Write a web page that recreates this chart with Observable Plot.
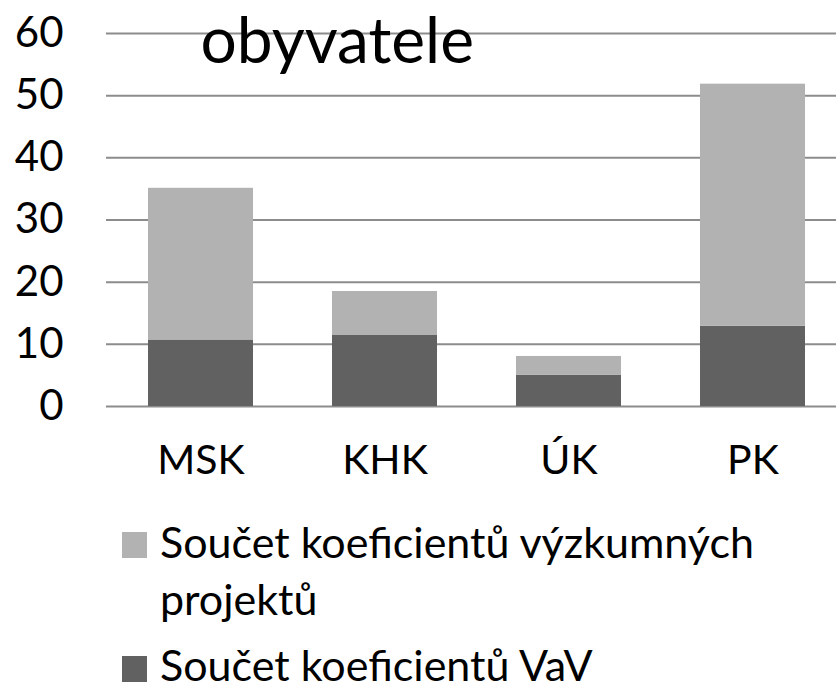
<!DOCTYPE html>
<html>
<head>
<meta charset="utf-8">
<script src="https://cdn.jsdelivr.net/npm/d3@7"></script>
<script src="https://cdn.jsdelivr.net/npm/@observablehq/plot@0.6"></script>
<style>
  html, body { margin: 0; padding: 0; background: #fff; overflow: hidden; }
  body { position: relative; width: 836px; height: 687px; font-family: Lato, "Open Sans", sans-serif; color: #000; }
  #chart { position: absolute; left: 0; top: 0; }
  .sw { position: absolute; width: 25px; height: 26px; }
  .lt { position: absolute; left: 160px; font-size: 43px; white-space: nowrap; }
</style>
</head>
<body>
<div id="chart"></div>
<div class="sw" id="sw1" style="left:122px; top:532px;"></div>
<div class="lt" id="lt1" style="top:513px; line-height:57px;"></div>
<div class="sw" id="sw2" style="left:122px; top:656px;"></div>
<div class="lt" id="lt2" style="top:643px; line-height:43px;"></div>
<script>
const title = "obyvatele";
const regions = ["MSK", "KHK", "ÚK", "PK"];
const seriesNames = ["Součet koeficientů VaV", "Součet koeficientů výzkumných projektů"];
const seriesColors = ["#616161", "#b2b2b2"];
const vav = [10.7, 11.5, 5.0, 12.9];
const projekty = [24.4, 7.0, 3.05, 38.95];
const yTicks = [0, 10, 20, 30, 40, 50, 60];

const rows = [];
regions.forEach((r, i) => {
  rows.push({region: r, series: seriesNames[0], value: vav[i]});
  rows.push({region: r, series: seriesNames[1], value: projekty[i]});
});

const chart = Plot.plot({
  width: 836,
  height: 510,
  marginLeft: 106,
  marginRight: 0,
  marginTop: 33,
  marginBottom: 104,
  style: {fontFamily: "Lato, 'Open Sans', sans-serif", fontSize: "41px", color: "#000", background: "#fff", overflow: "visible"},
  x: {domain: regions, range: [106, 846], paddingInner: 0.43, paddingOuter: 0.216, axis: null, label: null},
  y: {domain: [0, 60], axis: null, label: null},
  color: {domain: seriesNames, range: seriesColors},
  marks: [
    Plot.ruleY(yTicks, {stroke: "#8c8c8c", strokeWidth: 2}),
    Plot.barY(rows, {x: "region", y: "value", fill: "series", order: seriesNames, inset: 0}),
    Plot.axisY(yTicks, {tickSize: 0, tickPadding: 43, fontSize: 42, textAnchor: "end", label: null}),
    Plot.axisX(regions, {tickSize: 0, tickPadding: 38, fontSize: 41, label: null}),
    Plot.text([title], {frameAnchor: "top-left", text: d => d, textAnchor: "start", lineAnchor: "bottom", dx: 94, dy: 29, fontSize: 64, fill: "#000"})
  ]
});
document.getElementById("chart").appendChild(chart);

document.getElementById("sw1").style.background = seriesColors[1];
document.getElementById("sw2").style.background = seriesColors[0];
document.getElementById("lt1").innerHTML = "Součet koeficientů výzkumných<br>projektů";
document.getElementById("lt2").textContent = seriesNames[0];
</script>
</body>
</html>
